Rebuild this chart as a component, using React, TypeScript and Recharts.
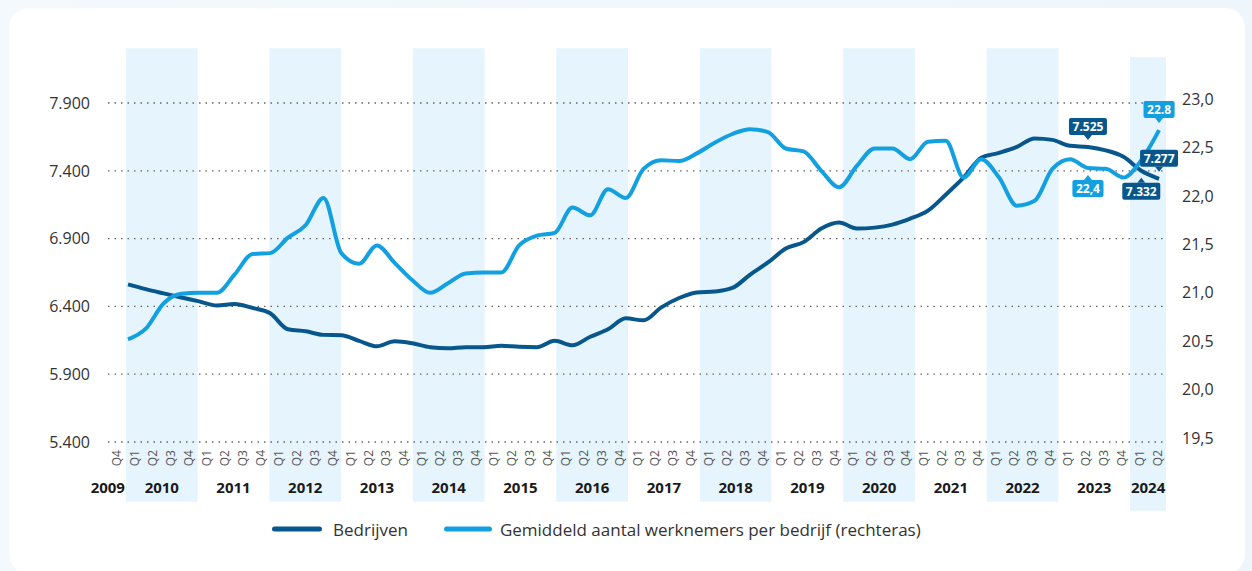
import React from 'react';
import { LineChart, Line, XAxis, YAxis, CartesianGrid, ReferenceArea, Legend, LabelList } from 'recharts';

// ---------- categories ----------
const firstYear = 2009;
const lastYear = 2024;
const quarters: string[] = [];
for (let y = firstYear; y <= lastYear; y++) {
  for (let q = 1; q <= 4; q++) {
    if (y === firstYear && q < 4) continue;
    if (y === lastYear && q > 2) continue;
    quarters.push(`${y} Q${q}`);
  }
}

// ---------- series ----------
const bedrijven = [
  6562, 6527, 6496, 6466, 6437, 6407, 6418, 6389, 6349, 6231,
  6216, 6190, 6187, 6146, 6106, 6143, 6128, 6099, 6091, 6099,
  6099, 6110, 6102, 6099, 6146, 6113, 6176, 6231, 6312, 6297,
  6393, 6462, 6503, 6510, 6536, 6635, 6724, 6827, 6874, 6974,
  7018, 6974, 6981, 7003, 7047, 7106, 7224, 7349, 7496, 7532,
  7576, 7639, 7628, 7584, 7576, 7551, 7503, 7400, 7341,
];

const werknemers = [
  20.56, 20.67, 20.93, 21.03, 21.04, 21.04, 21.23, 21.44, 21.45, 21.61,
  21.74, 22.02, 21.45, 21.34, 21.53, 21.35, 21.17, 21.04, 21.14, 21.24,
  21.25, 21.25, 21.53, 21.63, 21.66, 21.92, 21.84, 22.11, 22.02, 22.32,
  22.41, 22.40, 22.48, 22.59, 22.68, 22.73, 22.70, 22.53, 22.50, 22.30,
  22.13, 22.35, 22.53, 22.53, 22.42, 22.60, 22.61, 22.23, 22.42, 22.23,
  21.94, 21.99, 22.32, 22.42, 22.33, 22.32, 22.23, 22.41, 22.72,
];

// ---------- ticks ----------
const leftTicks = [5400, 5900, 6400, 6900, 7400, 7900];
const rightTicks = [19.5, 20.0, 20.5, 21.0, 21.5, 22.0, 22.5, 23.0];
const shadedYears = [2010, 2012, 2014, 2016, 2018, 2020, 2022, 2024];

// ---------- annotations ----------
const darkNotes = [
  { quarter: '2023 Q2', text: '7.525', place: 'above' },
  { quarter: '2024 Q1', text: '7.332', place: 'below' },
  { quarter: '2024 Q2', text: '7.277', place: 'above' },
];
const lightNotes = [
  { quarter: '2023 Q2', text: '22,4', place: 'below' },
  { quarter: '2024 Q2', text: '22.8', place: 'above' },
];

const DARK = '#07578c';
const LIGHT = '#12a0e0';
const BAND = '#e6f4fd';
const FONT = "'Open Sans', 'Noto Sans', sans-serif";

const data = quarters.map((q, i) => ({ idx: i, q, bedrijven: bedrijven[i], werknemers: werknemers[i] }));

const yearList: number[] = [];
for (let y = firstYear; y <= lastYear; y++) yearList.push(y);
const yearCenters = yearList.map((y) => {
  const idxs = quarters.map((q, i) => (q.startsWith(String(y)) ? i : -1)).filter((i) => i >= 0);
  const pos = idxs.reduce((a, b) => a + b, 0) / idxs.length;
  return { year: y, pos, partialStart: y === firstYear };
});

const bandRanges = shadedYears.map((y) => {
  const idxs = quarters.map((q, i) => (q.startsWith(String(y)) ? i : -1)).filter((i) => i >= 0);
  return { year: y, x1: idxs[0] - 0.5, x2: idxs[idxs.length - 1] + 0.5 };
});

const QuarterTick = (props: any) => {
  const { x, y, payload } = props;
  const q = quarters[Math.round(payload.value)];
  if (!q) return null;
  const label = q.split(' ')[1];
  return (
    <text
      x={x}
      y={y}
      transform={`rotate(-90, ${x}, ${y})`}
      textAnchor="end"
      dominantBaseline="central"
      fontSize={12}
      fontFamily={FONT}
      fill="#555"
    >
      {label}
    </text>
  );
};

const YearTick = (props: any) => {
  const { x, y, payload } = props;
  const yc = yearCenters.find((c) => Math.abs(c.pos - payload.value) < 0.01);
  if (!yc) return null;
  return (
    <text
      x={x}
      y={y}
      dx={yc.partialStart ? 8 : 0}
      dy={-23}
      textAnchor={yc.partialStart ? 'end' : 'middle'}
      fontSize={15}
      fontWeight={700}
      fontFamily={FONT}
      fill="#1a1a1a"
    >
      {yc.year}
    </text>
  );
};

const LeftTick = (props: any) => {
  const { x, y, payload } = props;
  const s = String(payload.value).replace(/\B(?=(\d{3})+(?!\d))/g, '.');
  return (
    <text x={x} y={y} dy="0.36em" textAnchor="end" fontSize={16} fontFamily={FONT} fill="#333">
      {s}
    </text>
  );
};

const RightTick = (props: any) => {
  const { x, y, payload } = props;
  const s = Number(payload.value).toFixed(1).replace('.', ',');
  return (
    <text x={x} y={y - 4} dy="0.36em" textAnchor="start" fontSize={16} fontFamily={FONT} fill="#333">
      {s}
    </text>
  );
};

const textWidth = (t: string) =>
  t.split('').reduce((w, c) => w + (/[0-9]/.test(c) ? 6.9 : 3.4), 0);

const makeNote = (notes: { quarter: string; text: string; place: string }[], color: string) => (props: any) => {
  const { x, y, index } = props;
  const note = notes.find((n) => quarters.indexOf(n.quarter) === index);
  if (!note || x == null || y == null) return null;
  const w = textWidth(note.text) + 7;
  const h = 17;
  const above = note.place === 'above';
  const baseY = above ? y - 12 : y + 12;
  const tipY = above ? y - 7 : y + 7;
  const boxY = above ? baseY - h : baseY;
  return (
    <g key={`note-${note.quarter}-${note.text}`}>
      <rect x={x - w / 2} y={boxY} width={w} height={h} rx={2} fill={color} />
      <path d={`M${x - 4},${baseY} L${x},${tipY} L${x + 4},${baseY} Z`} fill={color} />
      <text
        x={x}
        y={boxY + h / 2}
        dy="0.36em"
        textAnchor="middle"
        fill="#fff"
        fontSize={12}
        fontWeight={700}
        fontFamily={FONT}
      >
        {note.text}
      </text>
    </g>
  );
};

const renderLegend = () => (
  <div
    style={{
      display: 'flex',
      alignItems: 'center',
      height: 50,
      paddingLeft: 272,
      fontFamily: FONT,
      fontSize: 17,
      color: '#333',
      boxSizing: 'border-box',
    }}
  >
    <svg width={50} height={6} style={{ display: 'block' }}>
      <line x1={2.5} y1={3} x2={47.5} y2={3} stroke={DARK} strokeWidth={5} strokeLinecap="round" />
    </svg>
    <span style={{ marginLeft: 11 }}>Bedrijven</span>
    <svg width={48} height={6} style={{ display: 'block', marginLeft: 36 }}>
      <line x1={2.5} y1={3} x2={45.5} y2={3} stroke={LIGHT} strokeWidth={5} strokeLinecap="round" />
    </svg>
    <span style={{ marginLeft: 8 }}>Gemiddeld aantal werknemers per bedrijf (rechteras)</span>
  </div>
);

export default function App() {
  return (
    <div
      style={{
        position: 'fixed',
        left: 0,
        top: 0,
        width: 1252,
        height: 571,
        overflow: 'hidden',
        background: 'linear-gradient(90deg, #f3f9fd 0%, #eef6fc 100%)',
        fontFamily: FONT,
      }}
    >
      <div
        style={{
          position: 'absolute',
          left: 9,
          top: 8,
          width: 1236,
          height: 566,
          background: '#fff',
          borderRadius: 20,
        }}
      />
      <div style={{ position: 'absolute', left: 0, top: 0 }}>
        <LineChart width={1252} height={571} data={data} margin={{ top: 103, right: 26, bottom: 17, left: 48 }}>
          {bandRanges.map((b) => {
            const last = b.year === lastYear;
            return (
              <ReferenceArea
                key={b.year}
                xAxisId="cat"
                yAxisId="left"
                x1={b.x1}
                x2={b.x2}
                y1={last ? 4893 : 4959}
                y2={last ? 8238 : 8304}
                ifOverflow="visible"
                fill={BAND}
                fillOpacity={1}
                stroke="none"
                zIndex={-150}
              />
            );
          })}
          <CartesianGrid
            xAxisId="cat"
            yAxisId="left"
            vertical={false}
            stroke="#666"
            strokeDasharray="1.5 5"
            strokeWidth={1.3}
          />
          <XAxis
            xAxisId="cat"
            type="number"
            dataKey="idx"
            domain={[-0.5, quarters.length - 0.5]}
            ticks={quarters.map((_, i) => i)}
            interval={0}
            tick={<QuarterTick />}
            tickSize={0}
            tickMargin={8}
            axisLine={false}
            tickLine={false}
            height={36}
            allowDataOverflow
          />
          <XAxis
            xAxisId="year"
            type="number"
            dataKey="idx"
            domain={[-0.5, quarters.length - 0.5]}
            ticks={yearCenters.map((c) => c.pos)}
            interval={0}
            tick={<YearTick />}
            tickSize={0}
            tickMargin={8}
            axisLine={false}
            tickLine={false}
            height={26}
            allowDataOverflow
          />
          <XAxis
            xAxisId="line"
            type="number"
            dataKey="idx"
            domain={[-1.125, quarters.length - 1 + 0.39]}
            hide
            allowDataOverflow
          />
          <YAxis
            yAxisId="left"
            type="number"
            domain={[5400, 7900]}
            ticks={leftTicks}
            interval={0}
            tick={<LeftTick />}
            tickSize={0}
            tickMargin={18}
            axisLine={false}
            tickLine={false}
            width={60}
            allowDataOverflow
          />
          <YAxis
            yAxisId="right"
            orientation="right"
            type="number"
            domain={[19.5, 23.0]}
            ticks={rightTicks}
            interval={0}
            tick={<RightTick />}
            tickSize={0}
            tickMargin={16}
            axisLine={false}
            tickLine={false}
            width={60}
            allowDataOverflow
          />
          <Line
            xAxisId="line"
            yAxisId="left"
            type="monotone"
            dataKey="bedrijven"
            stroke={DARK}
            strokeWidth={4}
            dot={false}
            activeDot={false}
            isAnimationActive={false}
          >
            <LabelList dataKey="bedrijven" content={makeNote(darkNotes, DARK)} />
          </Line>
          <Line
            xAxisId="line"
            yAxisId="right"
            type="monotone"
            dataKey="werknemers"
            stroke={LIGHT}
            strokeWidth={4}
            dot={false}
            activeDot={false}
            isAnimationActive={false}
          >
            <LabelList dataKey="werknemers" content={makeNote(lightNotes, LIGHT)} />
          </Line>
          <Legend
            verticalAlign="bottom"
            align="left"
            wrapperStyle={{ left: 0, width: 1252, height: 50 }}
            content={renderLegend}
          />
        </LineChart>
      </div>
    </div>
  );
}
